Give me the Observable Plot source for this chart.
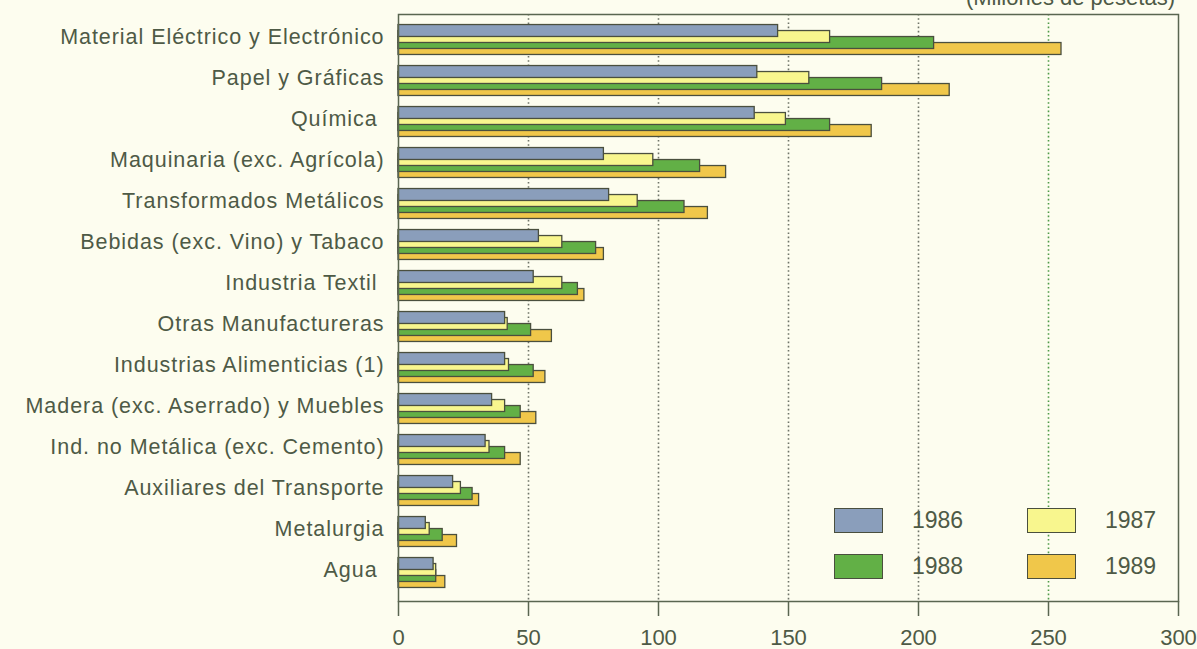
<!DOCTYPE html>
<html>
<head>
<meta charset="utf-8">
<script src="https://cdn.jsdelivr.net/npm/d3@7"></script>
<script src="https://cdn.jsdelivr.net/npm/@observablehq/plot@0.6"></script>
<style>
  html, body { margin: 0; padding: 0; background: #fdfdef; overflow: hidden; }
  #wrap { position: relative; width: 1197px; height: 649px; font-family: "Liberation Sans", Arial, sans-serif; color: #4e5a46; }
  #title { position: absolute; right: 22px; top: -13px; font-size: 22px; line-height: 22px; white-space: nowrap; }
  .sw { position: absolute; width: 47px; height: 23px; border: 1.3px solid #4a4f3e; }
  .lab { position: absolute; font-size: 23px; line-height: 25px; }
  g[aria-label="y-axis tick label"] text { letter-spacing: 0.95px; }
</style>
</head>
<body>
<div id="wrap">
  <div id="chart"></div>
  <div id="title">(Millones de pesetas)</div>
  <div id="legend"></div>
</div>
<script>
const categories = [
  "Material Eléctrico y Electrónico",
  "Papel y Gráficas",
  "Química\u00a0",
  "Maquinaria (exc. Agrícola)",
  "Transformados Metálicos",
  "Bebidas (exc. Vino) y Tabaco",
  "Industria Textil\u00a0",
  "Otras Manufactureras",
  "Industrias Alimenticias (1)",
  "Madera (exc. Aserrado) y Muebles",
  "Ind. no Metálica (exc. Cemento)",
  "Auxiliares del Transporte",
  "Metalurgia",
  "Agua\u00a0"
];
const years = ["1986", "1987", "1988", "1989"];
const v1986 = [146, 138, 137, 79, 81, 54, 52, 41, 41, 36, 33.5, 21, 10.5, 13.5];
const v1987 = [166, 158, 149, 98, 92, 63, 63, 42, 42.5, 41, 35, 24, 12, 14.5];
const v1988 = [206, 186, 166, 116, 110, 76, 69, 51, 52, 47, 41, 28.5, 17, 14.5];
const v1989 = [255, 212, 182, 126, 119, 79, 71.5, 59, 56.5, 53, 47, 31, 22.5, 18];
const seriesValues = [v1986, v1987, v1988, v1989];
const colors = ["#8a9ebb", "#f8f68e", "#62b046", "#f0c74a"];
const xTicks = [0, 50, 100, 150, 200, 250, 300];
const gridTicks = [50, 100, 150, 200, 250];

const step = 41.05, c0 = 36.5;
const barH = 12, barOff = 6;
const topInset0 = step / 2 - 12;

const barMarks = [];
for (let j = years.length - 1; j >= 0; j--) {
  const rows = categories.map((c, i) => ({cat: c, value: seriesValues[j][i], year: years[j]}));
  const it = topInset0 + barOff * j;
  barMarks.push(Plot.barX(rows, {
    x: "value", y: "cat", fill: colors[j],
    stroke: "#4a4f3e", strokeWidth: 1.3,
    insetTop: it, insetBottom: step - it - barH
  }));
}

const chart = Plot.plot({
  width: 1197, height: 649,
  marginLeft: 398, marginRight: 19, marginTop: 14, marginBottom: 48,
  style: {background: "transparent", fontFamily: "Liberation Sans, Arial, sans-serif", color: "#4e5a46"},
  x: {domain: [0, 300]},
  y: {domain: categories, range: [c0 - step / 2, c0 + 13 * step + step / 2], padding: 0},
  marks: [
    Plot.ruleX(gridTicks, {stroke: d => d >= 250 ? "#4f9a48" : "#6f7468", strokeWidth: 1.6, strokeDasharray: "1.6,2.6"}),
    ...barMarks,
    Plot.frame({stroke: "#5a6650", strokeWidth: 1.5}),
    Plot.axisX({ticks: xTicks, tickSize: 15, tickPadding: 13, fontSize: 22, stroke: "#5a6650", strokeWidth: 1.5, fill: "#4e5a46", label: null}),
    Plot.axisY({tickSize: 0, tickPadding: 14, fontSize: 21.5, fill: "#4e5a46", label: null})
  ]
});
document.getElementById("chart").appendChild(chart);

// legend overlay
const legend = document.getElementById("legend");
const legPos = [[834, 508], [1027, 508], [834, 554], [1027, 554]];
years.forEach((y, j) => {
  const sw = document.createElement("div");
  sw.className = "sw";
  sw.style.left = legPos[j][0] + "px";
  sw.style.top = legPos[j][1] + "px";
  sw.style.background = colors[j];
  legend.appendChild(sw);
  const lab = document.createElement("div");
  lab.className = "lab";
  lab.style.left = (legPos[j][0] + 78) + "px";
  lab.style.top = legPos[j][1] + "px";
  lab.textContent = y;
  legend.appendChild(lab);
});
</script>
</body>
</html>
